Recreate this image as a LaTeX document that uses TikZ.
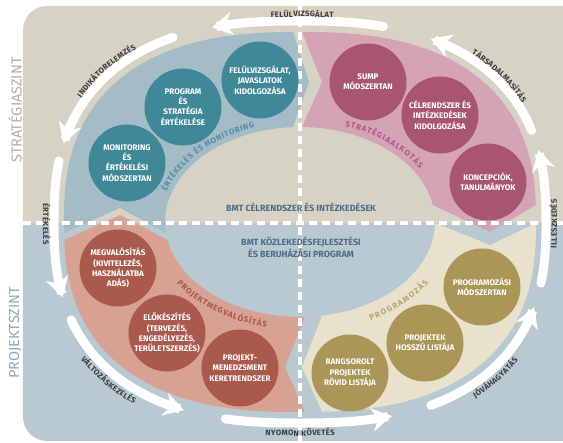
\documentclass[tikz,border=0pt]{standalone}
\usepackage{fontspec}
\setmainfont{Fira Sans}
\usetikzlibrary{arrows.meta,decorations.text}

\definecolor{topbg}{HTML}{D6D3C5}
\definecolor{botbg}{HTML}{B8C9D2}
\definecolor{tealband}{HTML}{A3BCC6}
\definecolor{tealc}{HTML}{3F8898}
\definecolor{pinkband}{HTML}{D4A4B6}
\definecolor{pinkc}{HTML}{A8566F}
\definecolor{salband}{HTML}{D8A292}
\definecolor{salc}{HTML}{A95A4D}
\definecolor{beigeband}{HTML}{E8E1CB}
\definecolor{beigec}{HTML}{AB9557}
\definecolor{ctrtxt}{HTML}{4E6C86}
\definecolor{arrtxt}{HTML}{3D3D3D}
\definecolor{stratc}{HTML}{B2B0A6}
\definecolor{projc}{HTML}{8FA8B7}
\definecolor{teallbl}{HTML}{4F8FA2}
\definecolor{pinklbl}{HTML}{B0597B}
\definecolor{sallbl}{HTML}{A6564B}
\definecolor{beigelbl}{HTML}{B8A56E}

\begin{document}
\begin{tikzpicture}[x=1pt,y=1pt,
  declare function={
    sxp(\ang,\rr)=\rr*sign(cos(\ang))*(abs(cos(\ang))+0.00001)^0.8;
    syp(\ang,\rr)=\rr*sign(sin(\ang))*(abs(sin(\ang))+0.00001)^0.8;
  },
  circ/.style={circle, minimum size=77pt, inner sep=0pt, text=white,
    align=center, font=\bfseries\fontsize{8.1}{10.3}\selectfont},
  ring/.style={white, line width=9pt, line cap=round,
    -{Stealth[length=20pt, width=23pt, inset=6pt]}},
  divider/.style={white, line width=3.5pt, dash pattern=on 8pt off 5pt},
  arrtext/.style={decorate, decoration={text along path, text align=center,
    text={|\bfseries\fontsize{7.8}{8}\selectfont\color{arrtxt}\kern0.3pt|#1}}},
  bandtext/.style n args={3}{decorate, decoration={text along path, text align=center,
    text={|\bfseries\fontsize{8}{8}\selectfont\color{#1}\kern#2|#3}}},
  lbl/.style={rotate=90, inner sep=0pt, font=\fontsize{14.5}{15}\selectfont},
  ctr/.style={inner sep=0pt, text=ctrtxt, align=center,
    font=\bfseries\fontsize{9}{12}\selectfont},
]
\useasboundingbox (-300,-221) rectangle (263,222);
\fill[white] (-300,-221) rectangle (263,222);

% two level panels
\begin{scope}
  \clip[rounded corners=24pt] (-277,-219) rectangle (330,216);
  \fill[botbg] (-300,-230) rectangle (330,-1);
  \fill[topbg] (-300,-1) rectangle (330,230);
\end{scope}

% four process bands
\fill[tealband] plot[domain=181.6:90.7, samples=60] ({sxp(\x,236)},{syp(\x,190)})
  -- (9,140) -- (93:135 and 95)
  arc[start angle=93, end angle=186.6, x radius=135, y radius=95]
  -- (-180,14) -- cycle;
\fill[pinkband] plot[domain=89.85:2.8, samples=60] ({sxp(\x,236)},{syp(\x,190)})
  -- (190,-10) -- (10.3:135 and 95)
  arc[start angle=10.3, end angle=89.15, x radius=135, y radius=95]
  -- (22,140) -- cycle;
\fill[beigeband] plot[domain=-0.1:-87.05, samples=60] ({sxp(\x,236)},{syp(\x,190)})
  -- (2,-145) -- (-80.6:135 and 95)
  arc[start angle=-80.6, end angle=-0.6, x radius=135, y radius=95]
  -- (190,-23) -- cycle;
\fill[salband] plot[domain=270.46:183, samples=60] ({sxp(\x,236)},{syp(\x,190)})
  -- (-180,7) -- (190.9:135 and 95)
  arc[start angle=190.9, end angle=272.1, x radius=135, y radius=95]
  -- (-15,-145) -- cycle;

% dividers
\draw[divider] (-277,-1) -- (263,-1);
\draw[divider] (0,216) -- (0,-221);

% central texts
\node[ctr] (goals) at (1,15) {BMT CÉLRENDSZER ÉS INTÉZKEDÉSEK};
\node[ctr] (prog) at (1,-25) {BMT KÖZLEKEDÉSFEJLESZTÉSI\\ÉS BERUHÁZÁSI PROGRAM};

% band labels
\path[bandtext={teallbl}{0.6pt}{ÉRTÉKELÉS ÉS MONITORING}] (172:140 and 100)
  arc[start angle=172, end angle=102, x radius=140, y radius=100];
\path[bandtext={pinklbl}{1pt}{STRATÉGIAALKOTÁS}] (85:141 and 101)
  arc[start angle=85, end angle=15, x radius=141, y radius=101];
\path[bandtext={sallbl}{0.8pt}{PROJEKTMEGVALÓSÍTÁS}] (198:150 and 108)
  arc[start angle=198, end angle=270, x radius=150, y radius=108];
\path[bandtext={beigelbl}{1.4pt}{PROGRAMOZÁS}] (-78:154 and 111)
  arc[start angle=-78, end angle=-15, x radius=154, y radius=111];

% steps
\node[circ, fill=tealc] (m1) at (-173,59) {MONITORING\\ÉS\\ÉRTÉKELÉSI\\MÓDSZERTAN};
\node[circ, fill=tealc] (m2) at (-117,115) {PROGRAM\\ÉS\\STRATÉGIA\\ÉRTÉKELÉSE};
\node[circ, fill=tealc] (m3) at (-40,142) {FELÜLVIZSGÁLAT,\\JAVASLATOK\\KIDOLGOZÁSA};
\node[circ, fill=pinkc] (s1) at (68,140) {SUMP\\MÓDSZERTAN};
\node[circ, fill=pinkc] (s2) at (140,107) {CÉLRENDSZER ÉS\\INTÉZKEDÉSEK\\KIDOLGOZÁSA};
\node[circ, fill=pinkc] (s3) at (188,40) {KONCEPCIÓK,\\TANULMÁNYOK};
\node[circ, fill=salc] (p1) at (-182,-46) {MEGVALÓSÍTÁS\\(KIVITELEZÉS,\\HASZNÁLATBA\\ADÁS)};
\node[circ, fill=salc] (p2) at (-133,-111) {ELŐKÉSZÍTÉS\\(TERVEZÉS,\\ENGEDÉLYEZÉS,\\TERÜLETSZERZÉS)};
\node[circ, fill=salc] (p3) at (-60,-146) {PROJEKT-\\MENEDZSMENT\\KERETRENDSZER};
\node[circ, fill=beigec] (g1) at (50,-151) {RANGSOROLT\\PROJEKTEK\\RÖVID LISTÁJA};
\node[circ, fill=beigec] (g2) at (125,-121) {PROJEKTEK\\HOSSZÚ LISTÁJA};
\node[circ, fill=beigec] (g3) at (182,-65) {PROGRAMOZÁSI\\MÓDSZERTAN};

% outer cycle of arrows
\draw[ring] plot[domain=75:106, samples=32] ({sxp(\x,246)},{syp(\x,201)});
\draw[ring] plot[domain=116:162, samples=40] ({sxp(\x,246)},{syp(\x,201)});
\draw[ring] plot[domain=167:197, samples=32] ({sxp(\x,246)},{syp(\x,201)});
\draw[ring] plot[domain=204:247, samples=40] ({sxp(\x,246)},{syp(\x,201)});
\draw[ring] plot[domain=257:287, samples=32] ({sxp(\x,246)},{syp(\x,201)});
\draw[ring] plot[domain=297:340, samples=40] ({sxp(\x,246)},{syp(\x,201)});
\draw[ring] plot[domain=-13:16, samples=32] ({sxp(\x,246)},{syp(\x,201)});
\draw[ring] plot[domain=22:63, samples=40] ({sxp(\x,246)},{syp(\x,201)});

% arrow captions
\path[arrtext=FELÜLVIZSGÁLAT] plot[domain=112:67, samples=50] ({sxp(\x,250)},{syp(\x,205)});
\path[arrtext=INDIKÁTORELEMZÉS] plot[domain=160:115, samples=50] ({sxp(\x,250)},{syp(\x,205)});
\path[arrtext=TÁRSADALMASÍTÁS] plot[domain=62:19, samples=50] ({sxp(\x,250)},{syp(\x,205)});
\path[arrtext=ÉRTÉKELÉS] plot[domain=160:201, samples=50] ({sxp(\x,257)},{syp(\x,214)});
\path[arrtext=VÁLTOZÁSKEZELÉS] plot[domain=200:248, samples=50] ({sxp(\x,257)},{syp(\x,214)});
\path[arrtext=NYOMON KÖVETÉS] plot[domain=248:292, samples=50] ({sxp(\x,257)},{syp(\x,214)});
\path[arrtext=JÓVÁHAGYATÁS] plot[domain=295:339, samples=50] ({sxp(\x,257)},{syp(\x,214)});
\path[arrtext=ILLESZKEDÉS] plot[domain=-22:21, samples=50] ({sxp(\x,257)},{syp(\x,214)});

% level labels
\node[lbl, text=stratc] (strat) at (-285,112) {STRATÉGIASZINT};
\node[lbl, text=projc] (proj) at (-285,-111) {PROJEKTSZINT};
\end{tikzpicture}
\end{document}
